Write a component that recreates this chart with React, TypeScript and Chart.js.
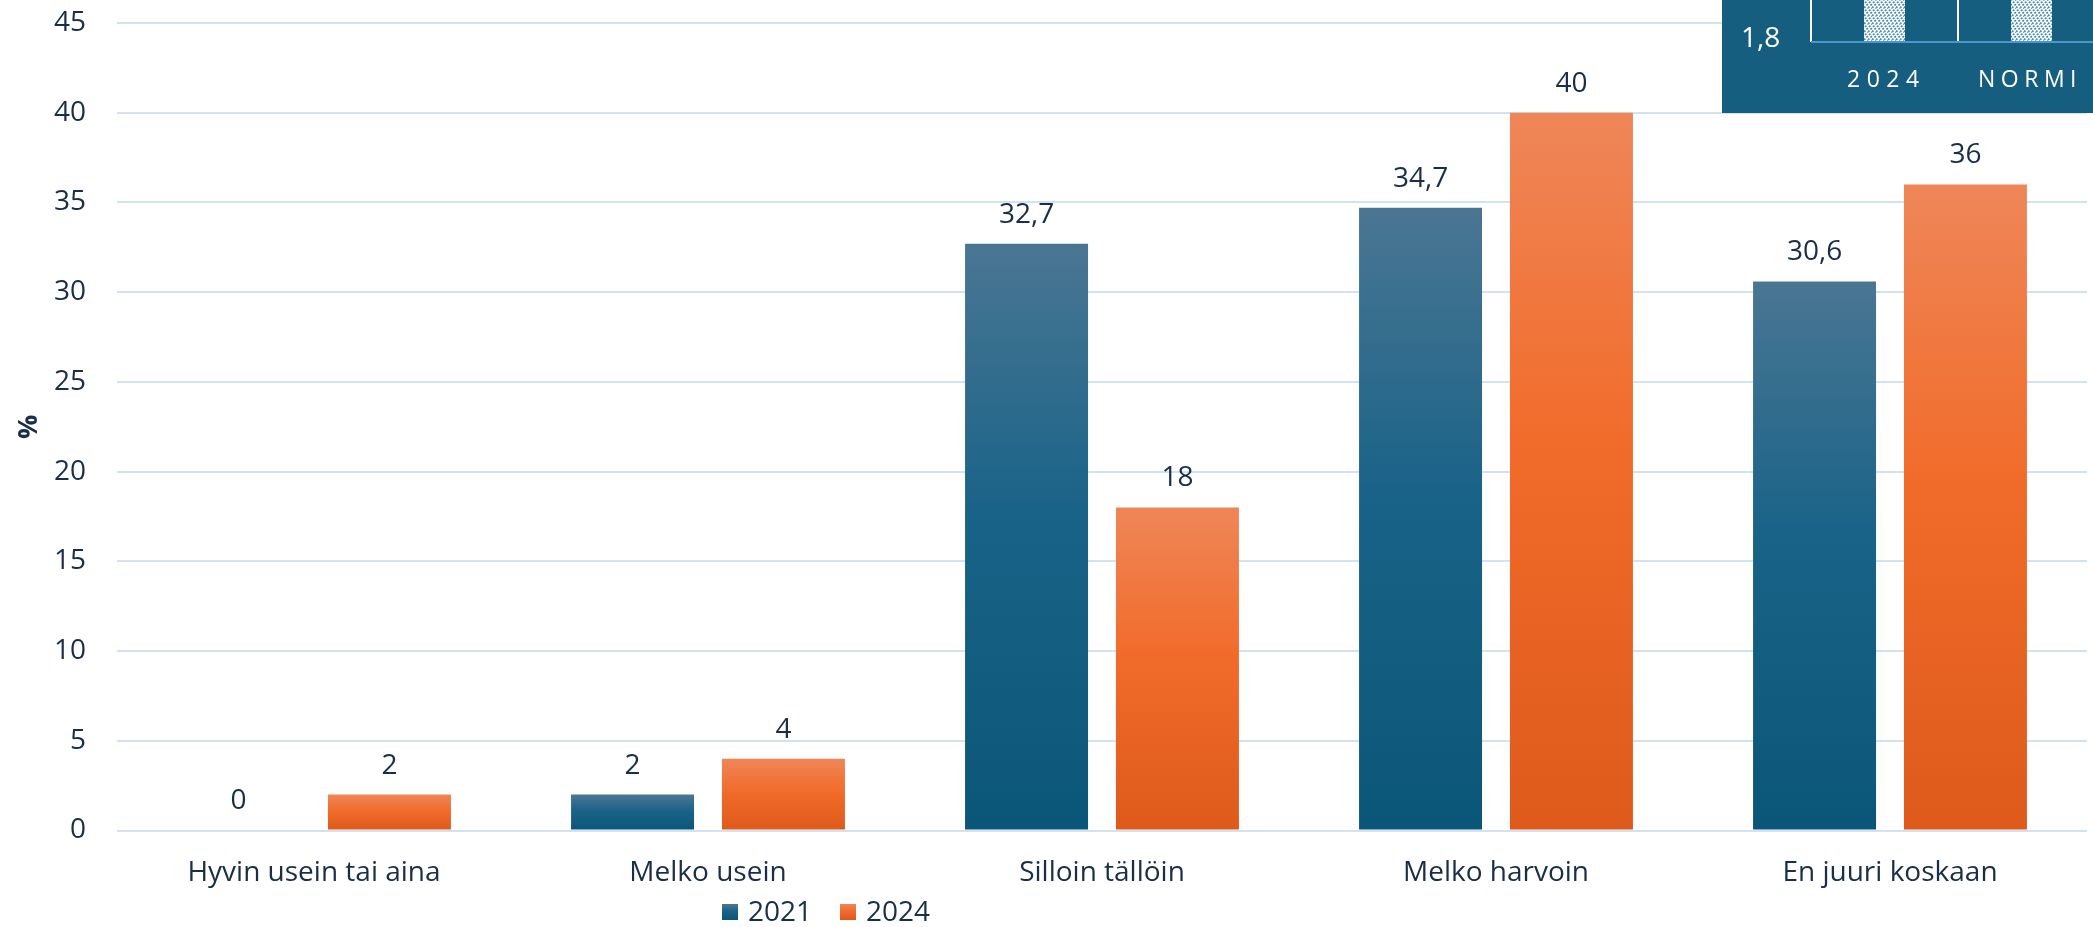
import React, { useEffect, useRef } from "react";
import { Chart, registerables } from "chart.js";

Chart.register(...registerables);

const categories = ["Hyvin usein tai aina", "Melko usein", "Silloin tällöin", "Melko harvoin", "En juuri koskaan"];
const seriesNames = ["2021", "2024"];
const values2021 = [0, 2, 32.7, 34.7, 30.6];
const values2024 = [2, 4, 18, 40, 36];
const yTicksMax = 45;
const yTicksStep = 5;
const insetValueLabel = "1,8";
const insetCategories = ["2024", "NORMI"];

const FONT = '"Open Sans", "Noto Sans", sans-serif';
const TEXT = "#1A2E48";
const GRID = "#D2E2F3";
const BLUE_STOPS = ["#4A7693", "#1A6388", "#0A5678"];
const ORANGE_STOPS = ["#EF8658", "#F16C2B", "#DE5A1A"];

function makeGradient(ctx: CanvasRenderingContext2D, top: number, bottom: number, stops: string[]) {
  const g = ctx.createLinearGradient(0, top, 0, bottom);
  g.addColorStop(0, stops[0]);
  g.addColorStop(0.45, stops[1]);
  g.addColorStop(1, stops[2]);
  return g;
}

function barFill(stops: string[]) {
  return (c: any) => {
    const chart = c.chart;
    if (!chart.chartArea || c.raw === undefined) return stops[1];
    const y = chart.scales.y;
    const top = y.getPixelForValue(c.raw);
    const bottom = y.getPixelForValue(0);
    if (Math.abs(bottom - top) < 1) return stops[1];
    return makeGradient(chart.ctx, top, bottom, stops);
  };
}

function fmt(v: number) {
  return String(v).replace(".", ",");
}

function spacedText(ctx: CanvasRenderingContext2D, text: string, x: number, y: number, spacing: number) {
  let cx = x;
  for (const ch of text) {
    ctx.fillText(ch, cx, y);
    cx += ctx.measureText(ch).width + spacing;
  }
}

const overlayPlugin = {
  id: "overlay",
  afterDatasetsDraw(chart: any) {
    const ctx: CanvasRenderingContext2D = chart.ctx;
    ctx.save();
    ctx.font = `28px ${FONT}`;
    ctx.fillStyle = TEXT;
    ctx.textAlign = "center";
    ctx.textBaseline = "middle";
    chart.data.datasets.forEach((ds: any, di: number) => {
      const meta = chart.getDatasetMeta(di);
      meta.data.forEach((bar: any, i: number) => {
        ctx.fillText(fmt(ds.data[i]), bar.x, bar.y - 29);
      });
    });
    ctx.restore();
  },
  afterDraw(chart: any) {
    const ctx: CanvasRenderingContext2D = chart.ctx;
    ctx.save();
    // legend
    const ly = 912;
    const items = [
      { x: 722, stops: BLUE_STOPS, label: seriesNames[0] },
      { x: 840, stops: ORANGE_STOPS, label: seriesNames[1] },
    ];
    ctx.font = `28px ${FONT}`;
    ctx.textBaseline = "middle";
    ctx.textAlign = "left";
    items.forEach((it) => {
      ctx.fillStyle = makeGradient(ctx, ly - 8, ly + 8, it.stops);
      ctx.fillRect(it.x, ly - 8, 16, 16);
      ctx.fillStyle = TEXT;
      ctx.fillText(it.label, it.x + 26, ly + 1);
    });

    // inset fragment (top-right)
    ctx.fillStyle = "#165E80";
    ctx.fillRect(1722, 0, 371, 113);
    const pc = document.createElement("canvas");
    pc.width = 8;
    pc.height = 8;
    const p = pc.getContext("2d")!;
    p.fillStyle = "#FFFFFF";
    p.fillRect(0, 0, 8, 8);
    p.strokeStyle = "#3B86B2";
    p.lineWidth = 1.6;
    p.setLineDash([2, 1.5]);
    for (let k = -8; k <= 16; k += 4) {
      p.beginPath();
      p.moveTo(k, 8);
      p.lineTo(k + 8, 0);
      p.stroke();
    }
    const pat = ctx.createPattern(pc, "repeat")!;
    ctx.fillStyle = pat;
    ctx.fillRect(1864, 0, 41, 42);
    ctx.fillRect(2011, 0, 41, 42);
    ctx.strokeStyle = "#FFFFFF";
    ctx.lineWidth = 2;
    [1811, 1958].forEach((x) => {
      ctx.beginPath();
      ctx.moveTo(x, 0);
      ctx.lineTo(x, 42);
      ctx.stroke();
    });
    ctx.strokeStyle = "#4A98C9";
    ctx.beginPath();
    ctx.moveTo(1811, 42);
    ctx.lineTo(2093, 42);
    ctx.stroke();
    ctx.fillStyle = "#FFFFFF";
    ctx.font = `28px ${FONT}`;
    ctx.textAlign = "left";
    ctx.textBaseline = "middle";
    ctx.fillText(insetValueLabel, 1741, 39);
    ctx.font = `23px ${FONT}`;
    spacedText(ctx, insetCategories[0], 1847, 80, 6.5);
    spacedText(ctx, insetCategories[1], 1978, 80, 5.5);
    ctx.restore();
  },
};

export default function App() {
  const ref = useRef<HTMLCanvasElement>(null);
  useEffect(() => {
    document.body.style.margin = "0";
    const canvas = ref.current!;
    const chart = new Chart(canvas, {
      type: "bar",
      data: {
        labels: categories,
        datasets: [
          { label: seriesNames[0], data: values2021, backgroundColor: barFill(BLUE_STOPS), categoryPercentage: 0.766, barPercentage: 0.815 },
          { label: seriesNames[1], data: values2024, backgroundColor: barFill(ORANGE_STOPS), categoryPercentage: 0.766, barPercentage: 0.815 },
        ],
      },
      options: {
        responsive: false,
        devicePixelRatio: 1,
        animation: false,
        layout: { padding: { top: 23, right: 6, left: 0, bottom: 0 } },
        plugins: { legend: { display: false }, tooltip: { enabled: false } },
        scales: {
          x: {
            grid: { display: false },
            border: { display: false },
            ticks: { color: TEXT, font: { family: FONT, size: 28 }, padding: 18, maxRotation: 0 },
            afterFit: (s: any) => {
              s.height = 96.5;
            },
          },
          y: {
            min: 0,
            max: yTicksMax,
            ticks: { stepSize: yTicksStep, color: TEXT, font: { family: FONT, size: 28 }, padding: 31 },
            grid: { color: GRID, lineWidth: 2, drawTicks: false },
            border: { display: false },
            title: { display: true, text: "%", color: TEXT, font: { family: FONT, size: 27, weight: "bold" }, padding: { top: 13, bottom: 0 } },
            afterFit: (s: any) => {
              s.width = 117;
              s.paddingTop = 0;
              s.paddingBottom = 0;
            },
          },
        },
      },
      plugins: [overlayPlugin],
    });
    return () => chart.destroy();
  }, []);
  return <canvas ref={ref} width={2093} height={927} style={{ display: "block" }} />;
}
